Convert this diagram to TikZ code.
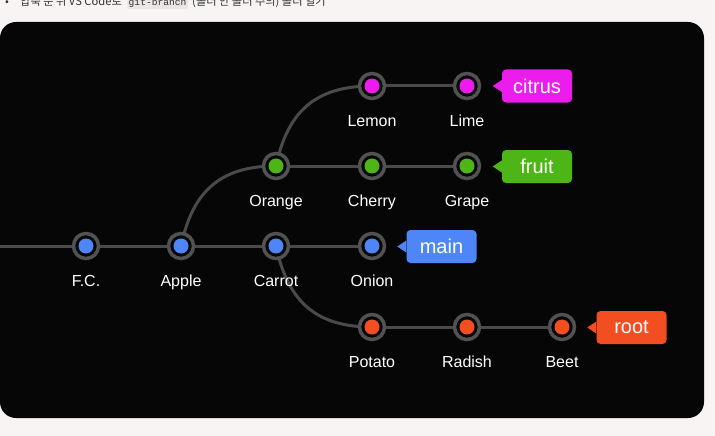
\documentclass[tikz,border=0pt]{standalone}
\usepackage{fontspec}
\setmainfont{Liberation Sans}
\setmonofont{Liberation Mono}
\newfontfamily\krfont{Noto Sans CJK KR}
\usetikzlibrary{calc,backgrounds}
\definecolor{pagebg}{HTML}{F7F4F3}
\definecolor{panel}{HTML}{060606}
\definecolor{ringgray}{HTML}{525252}
\definecolor{wire}{HTML}{4A4A4A}
\definecolor{cblue}{HTML}{4F86F7}
\definecolor{cgreen}{HTML}{4DB515}
\definecolor{cmag}{HTML}{EC1CEC}
\definecolor{cred}{HTML}{F24E22}
\definecolor{codebg}{HTML}{EAE6E5}
\newcommand\mytagptr[2]{\fill[#2] ([yshift=6pt]#1.west) -- ([xshift=-9pt]#1.west) -- ([yshift=-6pt]#1.west) -- cycle;}
\tikzset{
  commit/.style={circle, draw=ringgray, line width=3.5pt, fill=panel, minimum size=25pt, inner sep=0pt,
    path picture={\fill[#1] (path picture bounding box.center) circle (7.5pt);}},
  lbl/.style={text=white, font=\fontsize{16}{18}\selectfont, anchor=base, inner sep=0pt},
  tagbox/.style={fill=#1, rounded corners=4pt, minimum width=70pt, minimum height=33pt, inner sep=0pt,
    text=white, font=\fontsize{20}{22}\selectfont},
  wireline/.style={draw=wire, line width=3pt},
  hdr/.style={anchor=base west, inner sep=0pt, text=black!80, font=\krfont\fontsize{11.2}{13}\selectfont}
}
\begin{document}
\begin{tikzpicture}[x=1pt,y=-1pt]
\useasboundingbox (0,0) rectangle (715,436);
\clip (0,0) rectangle (715,436);
% commits
\node[commit=cblue] (fc) at (86,246) {};
\node[commit=cblue] (apple) at (181,246) {};
\node[commit=cblue] (carrot) at (276,246) {};
\node[commit=cblue] (onion) at (372,246) {};
\node[commit=cgreen] (orange) at (276,166) {};
\node[commit=cgreen] (cherry) at (372,166) {};
\node[commit=cgreen] (grape) at (467,166) {};
\node[commit=cmag] (lemon) at (372,86) {};
\node[commit=cmag] (lime) at (467,86) {};
\node[commit=cred] (potato) at (372,327) {};
\node[commit=cred] (radish) at (467,327) {};
\node[commit=cred] (beet) at (562,327) {};
\coordinate (start) at (0,246);
% labels
\foreach \n/\t in {fc/F.C., apple/Apple, carrot/Carrot, onion/Onion, orange/Orange, cherry/Cherry, grape/Grape, lemon/Lemon, lime/Lime, potato/Potato, radish/Radish, beet/Beet}
  \node[lbl] (\n-l) at ([yshift=-40pt]\n.center) {\t};
% tags
\node[tagbox=cmag] (citrus) at (537,86) {citrus};
\node[tagbox=cgreen] (fruit) at (537,166.5) {fruit};
\node[tagbox=cblue] (main) at (441.5,246.5) {main};
\node[tagbox=cred] (root) at (631.5,327.5) {root};
\mytagptr{citrus}{cmag}
\mytagptr{fruit}{cgreen}
\mytagptr{main}{cblue}
\mytagptr{root}{cred}
% header text
\node[hdr] (bullet) at (5,5.5) {•};
\node[hdr] (hdr1) at (20,5.5) {압축 푼 뒤 VS Code로};
\node[anchor=base west, inner sep=1.5pt, fill=codebg, rounded corners=2pt, text=black!80, font=\ttfamily\fontsize{9.6}{11}\selectfont] (code) at ([xshift=5pt]hdr1.base east) {git-branch};
\node[hdr] (hdr2) at ([xshift=4pt]code.base east) {(폴더 안 폴더 주의) 폴더 열기};
\begin{pgfonlayer}{background}
\fill[pagebg] (0,0) rectangle (715,436);
\fill[panel, rounded corners=16pt] (0,22) rectangle (704,418);
\draw[wireline] (start) -- (fc) -- (apple) -- (carrot) -- (onion);
\draw[wireline] (orange) -- (cherry) -- (grape);
\draw[wireline] (lemon) -- (lime);
\draw[wireline] (potato) -- (radish) -- (beet);
\draw[wireline] (apple.center) to[out=78, in=180, looseness=1.15] (orange.center);
\draw[wireline] (orange.center) to[out=78, in=180, looseness=1.15] (lemon.center);
\draw[wireline] (carrot.center) to[out=-78, in=180, looseness=1.15] (potato.center);
\end{pgfonlayer}
\end{tikzpicture}
\end{document}
